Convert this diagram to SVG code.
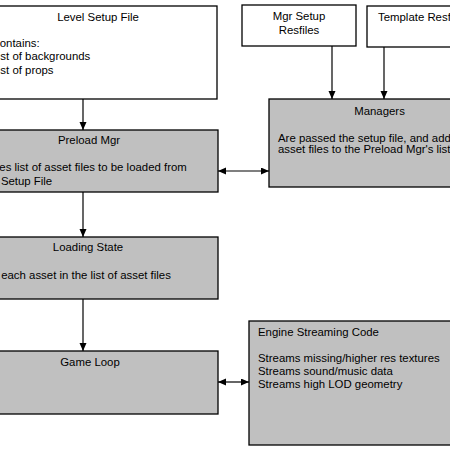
<svg xmlns="http://www.w3.org/2000/svg" width="450" height="450" viewBox="0 0 450 450">
<style>
.box{stroke:#000;stroke-width:1.3}
.w{fill:#fff}
.g{fill:#c0c0c0}
text{font-family:"Liberation Sans",Arial,sans-serif;font-size:11.4px;fill:#000}
.c{text-anchor:middle}
.conn{stroke:#000;stroke-width:1.2;fill:none}
</style>
<defs>
<marker id="ah" markerUnits="userSpaceOnUse" markerWidth="9" markerHeight="8" refX="8" refY="3.5" orient="auto-start-reverse" viewBox="0 0 9 8">
<path d="M0,0 L8,3.5 L0,7 z" fill="#000"/>
</marker>
</defs>
<rect width="450" height="450" fill="#fff"/>
<g id="level-setup-file">
<rect class="box w" x="-21" y="6" width="238" height="93"/>
<text class="c" x="98" y="20.5">Level Setup File</text>
<text x="-8.5" y="47">Contains:</text>
<text x="-8.5" y="60">List of backgrounds</text>
<text x="-8.5" y="73.5">List of props</text>
</g>
<g id="mgr-setup-resfiles">
<rect class="box w" x="242" y="5" width="114" height="41"/>
<text class="c" x="299" y="20">Mgr Setup</text>
<text class="c" x="299" y="34">Resfiles</text>
</g>
<g id="template-resfiles">
<rect class="box w" x="367" y="6" width="120" height="41"/>
<text x="378" y="21">Template Resfiles</text>
</g>
<g id="preload-mgr">
<rect class="box g" x="-40" y="130" width="258" height="62"/>
<text class="c" x="89" y="144">Preload Mgr</text>
<text x="-28.5" y="171">Creates list of asset files to be loaded from</text>
<text x="-29.5" y="185">Level Setup File</text>
</g>
<g id="managers">
<rect class="box g" x="269" y="99" width="221" height="88"/>
<text class="c" x="379.5" y="115">Managers</text>
<text x="278" y="141.5">Are passed the setup file, and add</text>
<text x="278" y="153">asset files to the Preload Mgr's list</text>
</g>
<g id="loading-state">
<rect class="box g" x="-40" y="237" width="258" height="62"/>
<text class="c" x="88" y="251">Loading State</text>
<text x="-33" y="279">Loads each asset in the list of asset files</text>
</g>
<g id="game-loop">
<rect class="box g" x="-40" y="351" width="258" height="63"/>
<text class="c" x="90" y="366">Game Loop</text>
</g>
<g id="engine-streaming-code">
<rect class="box g" x="249" y="321" width="231" height="124"/>
<text x="258" y="335.5">Engine Streaming Code</text>
<text x="258" y="362">Streams missing/higher res textures</text>
<text x="258" y="375">Streams sound/music data</text>
<text x="258" y="388">Streams high LOD geometry</text>
</g>
<g id="connectors">
<line class="conn" x1="83" y1="99" x2="83" y2="130" marker-end="url(#ah)"/>
<line class="conn" x1="83" y1="192" x2="83" y2="237" marker-end="url(#ah)"/>
<line class="conn" x1="83" y1="299" x2="83" y2="351" marker-end="url(#ah)"/>
<line class="conn" x1="332" y1="46" x2="332" y2="99" marker-end="url(#ah)"/>
<line class="conn" x1="384" y1="47" x2="384" y2="99" marker-end="url(#ah)"/>
<line class="conn" x1="218" y1="171" x2="269" y2="171" marker-start="url(#ah)" marker-end="url(#ah)"/>
<line class="conn" x1="218" y1="382" x2="249" y2="382" marker-start="url(#ah)" marker-end="url(#ah)"/>
</g>
</svg>
